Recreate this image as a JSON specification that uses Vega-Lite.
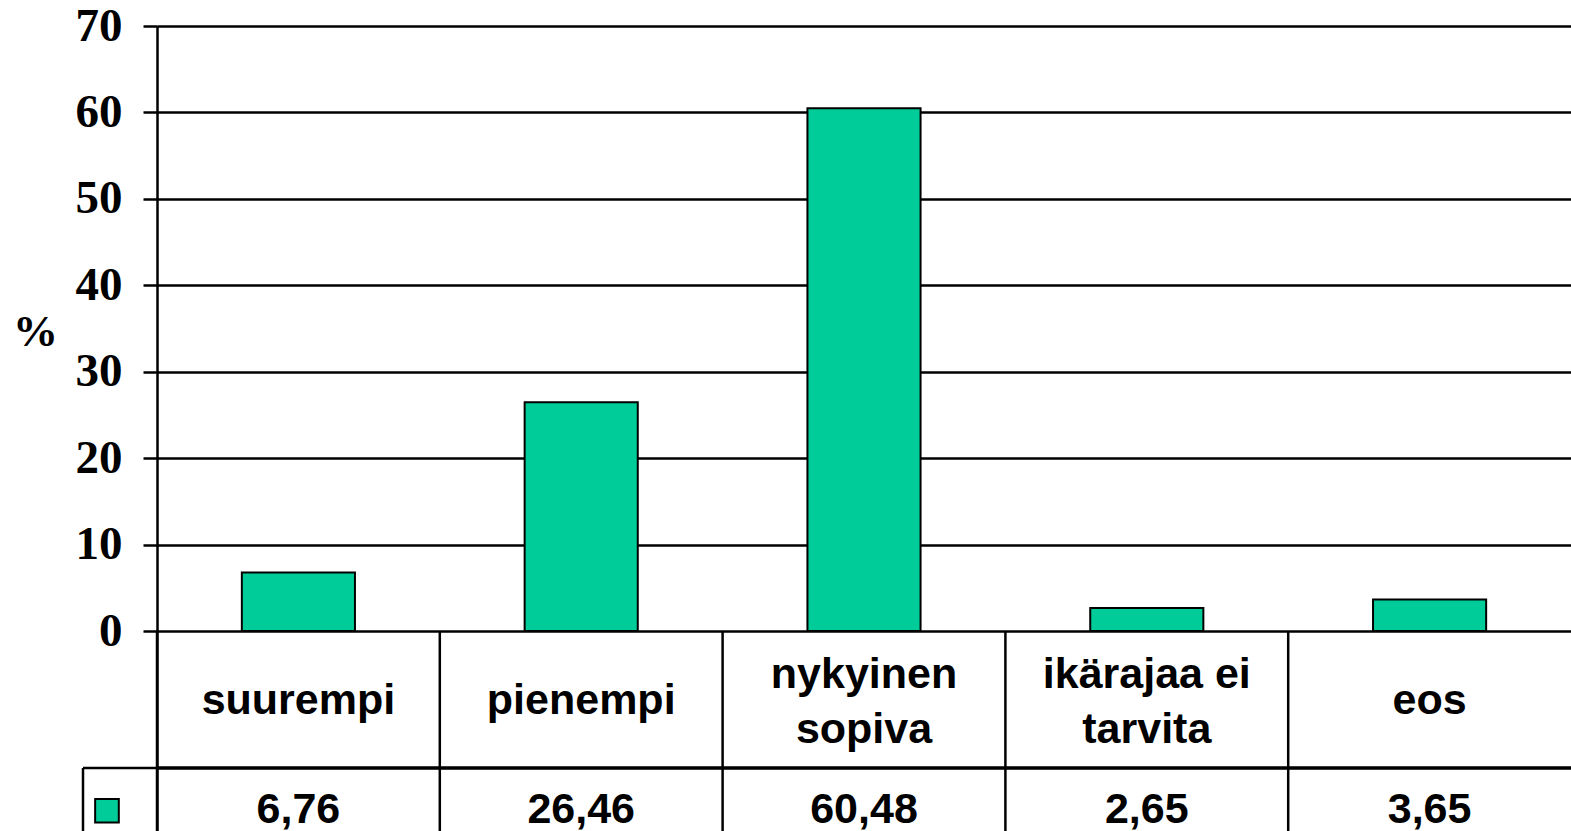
{
  "$schema": "https://vega.github.io/schema/vega-lite/v6.json",
  "autosize": {"type": "pad"},
  "padding": {"left": 12, "top": 2, "right": 0, "bottom": 0},
  "background": "white",
  "config": {
    "view": {"stroke": null},
    "locale": {"number": {"decimal": ",", "thousands": " ", "grouping": [3], "currency": ["", " €"]}}
  },
  "datasets": {
    "survey": [
      {"vastaus": "suurempi", "osuus": 6.76},
      {"vastaus": "pienempi", "osuus": 26.46},
      {"vastaus": "nykyinen\nsopiva", "osuus": 60.48},
      {"vastaus": "ikärajaa ei\ntarvita", "osuus": 2.65},
      {"vastaus": "eos", "osuus": 3.65}
    ]
  },
  "spacing": 0,
  "bounds": "flush",
  "hconcat": [
    {
      "width": 74,
      "height": 805,
      "data": {"values": [{"sarja": "osuus"}]},
      "layer": [
        {
          "mark": {"type": "rule", "strokeWidth": 2.5, "color": "black"},
          "encoding": {
            "y": {"datum": -15.85, "type": "quantitative", "scale": {"domain": [-23.14, 70], "nice": false, "zero": false}, "axis": null}
          }
        },
        {
          "mark": {"type": "rule", "strokeWidth": 2.5, "color": "black"},
          "encoding": {
            "x": {"datum": 0, "type": "quantitative", "scale": {"domain": [0, 1], "nice": false, "zero": false}, "axis": null},
            "y": {"datum": -15.85, "type": "quantitative"},
            "y2": {"datum": -23.14}
          }
        },
        {
          "mark": {"type": "point", "shape": "square", "filled": true, "fill": "#00CC99", "stroke": "black", "strokeWidth": 2, "size": 560, "opacity": 1},
          "encoding": {
            "x": {"datum": 0.324, "type": "quantitative"},
            "y": {"datum": -20.8, "type": "quantitative"}
          }
        }
      ]
    },
    {
      "width": 1414,
      "height": 805,
      "data": {"name": "survey"},
      "layer": [
        {
          "mark": {"type": "bar", "width": {"band": 0.4}, "fill": "#00CC99", "stroke": "black", "strokeWidth": 2},
          "encoding": {
            "x": {"field": "vastaus", "type": "nominal", "sort": null, "scale": {"paddingInner": 0, "paddingOuter": 0}, "axis": null},
            "y": {
              "field": "osuus", "type": "quantitative",
              "scale": {"domain": [-23.14, 70], "nice": false, "zero": false},
              "axis": {
                "values": [0, 10, 20, 30, 40, 50, 60, 70],
                "grid": true, "gridColor": "black", "gridWidth": 2.5, "gridOpacity": 1,
                "domainColor": "black", "domainWidth": 2.5,
                "tickColor": "black", "tickWidth": 2.5, "tickSize": 14,
                "labelPadding": 21, "labelFont": "Liberation Serif", "labelFontWeight": "bold", "labelFontSize": 47, "labelColor": "black",
                "title": "%", "titleAngle": 0, "titleFont": "Liberation Serif", "titleFontWeight": "bold", "titleFontSize": 45, "titleColor": "black",
                "titleX": -122, "titleY": 305, "titleAlign": "center", "titleBaseline": "middle"
              }
            },
            "y2": {"datum": 0}
          }
        },
        {
          "mark": {"type": "rule", "strokeWidth": 2.5, "color": "black"},
          "encoding": {
            "x": {"field": "vastaus", "type": "nominal", "sort": null, "bandPosition": 0},
            "y": {"datum": 0, "type": "quantitative"},
            "y2": {"datum": -23.14}
          }
        },
        {
          "mark": {"type": "rule", "strokeWidth": 2.5, "color": "black"},
          "encoding": {
            "y": {"datum": -15.85, "type": "quantitative"}
          }
        },
        {
          "transform": [{"filter": "indexof(datum.vastaus, '\\n') < 0"}],
          "mark": {"type": "text", "font": "Liberation Sans", "fontWeight": "bold", "fontSize": 43, "baseline": "middle", "align": "center", "color": "black"},
          "encoding": {
            "x": {"field": "vastaus", "type": "nominal", "sort": null},
            "y": {"datum": -8.1, "type": "quantitative"},
            "text": {"field": "vastaus", "type": "nominal"}
          }
        },
        {
          "transform": [{"filter": "indexof(datum.vastaus, '\\n') >= 0"}],
          "mark": {"type": "text", "font": "Liberation Sans", "fontWeight": "bold", "fontSize": 43, "lineBreak": "\n", "lineHeight": 55, "baseline": "middle", "align": "center", "color": "black"},
          "encoding": {
            "x": {"field": "vastaus", "type": "nominal", "sort": null},
            "y": {"datum": -5.09, "type": "quantitative"},
            "text": {"field": "vastaus", "type": "nominal"}
          }
        },
        {
          "mark": {"type": "text", "font": "Liberation Sans", "fontWeight": "bold", "fontSize": 43, "baseline": "middle", "align": "center", "color": "black"},
          "encoding": {
            "x": {"field": "vastaus", "type": "nominal", "sort": null},
            "y": {"datum": -20.71, "type": "quantitative"},
            "text": {"field": "osuus", "type": "quantitative", "format": ".2f"}
          }
        }
      ]
    }
  ]
}
